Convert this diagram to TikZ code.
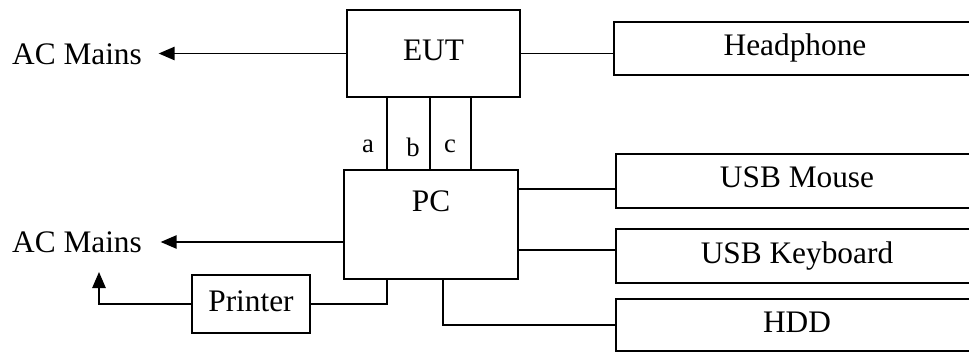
\documentclass[tikz,border=0pt]{standalone}
\usepackage{fontspec}
\setmainfont{Liberation Serif}
\usetikzlibrary{arrows.meta}
\begin{document}
\begin{tikzpicture}[x=0.75pt,y=-0.75pt,line width=1.2pt,
    box/.style={draw,rectangle,inner sep=0pt,text height=16.5pt,text depth=6pt,font=\fontsize{23.5}{28}\selectfont},
    txt/.style={inner sep=0pt,font=\fontsize{23.5}{28}\selectfont},
    port/.style={inner sep=0pt,font=\fontsize{20}{24}\selectfont},
    arr/.style={-{Triangle[length=12pt,width=10pt]}}]
    \useasboundingbox (0,0) rectangle (969,352);
    \clip (0,0) rectangle (969,352);
    %% EUT and PC
    \node[box,minimum width=129.75pt,minimum height=65.25pt] (eut) at (433.5,53.5) {EUT};
    \node[box,minimum width=130.5pt,minimum height=81.75pt,
        label={[txt,anchor=base,yshift=-31.7pt]north:PC}] (pc) at (431,224.5) {};
    %% devices
    \node[box,minimum width=271.5pt,minimum height=39.75pt] (headphone) at (795,48.5) {Headphone};
    \node[box,minimum width=271.5pt,minimum height=40.5pt] (mouse) at (797,181) {USB Mouse};
    \node[box,minimum width=271.5pt,minimum height=40.5pt] (keyboard) at (797,256) {USB Keyboard};
    \node[box,minimum width=271.5pt,minimum height=39pt] (hdd) at (797,325) {HDD};
    \node[box,minimum width=88.5pt,minimum height=43.5pt] (printer) at (251,304) {Printer};
    %% mains
    \node[txt] (mains1) at (77,54) {AC Mains};
    \node[txt] (mains2) at (77,242) {AC Mains};
    \coordinate (tip) at (99,272);
    %% cables a, b, c
    \foreach \x in {387,430,471}
        \draw (eut.south -| \x,0) -- (pc.north -| \x,0);
    \node[port,anchor=base] (a) at (368,153) {a};
    \node[port,anchor=base] (b) at (413,157) {b};
    \node[port,anchor=base] (c) at (450,153) {c};
    %% connections
    \draw[arr,shorten >=12pt] (eut.west) -- (eut.west -| mains1.east);
    \draw[arr,shorten >=13.5pt] (pc.west |- mains2) -- (mains2.east);
    \draw (eut.east) -- (eut.east -| headphone.west);
    \draw ([yshift=-6pt]mouse.west) -- ([yshift=-6pt]mouse.west -| pc.east);
    \draw ([yshift=4.5pt]keyboard.west) -- ([yshift=4.5pt]keyboard.west -| pc.east);
    \draw (pc.south -| 443,0) |- (hdd.west);
    \draw (pc.south -| 387,0) |- (printer.east);
    \draw[arr] (printer.west) -| (tip);
\end{tikzpicture}
\end{document}
